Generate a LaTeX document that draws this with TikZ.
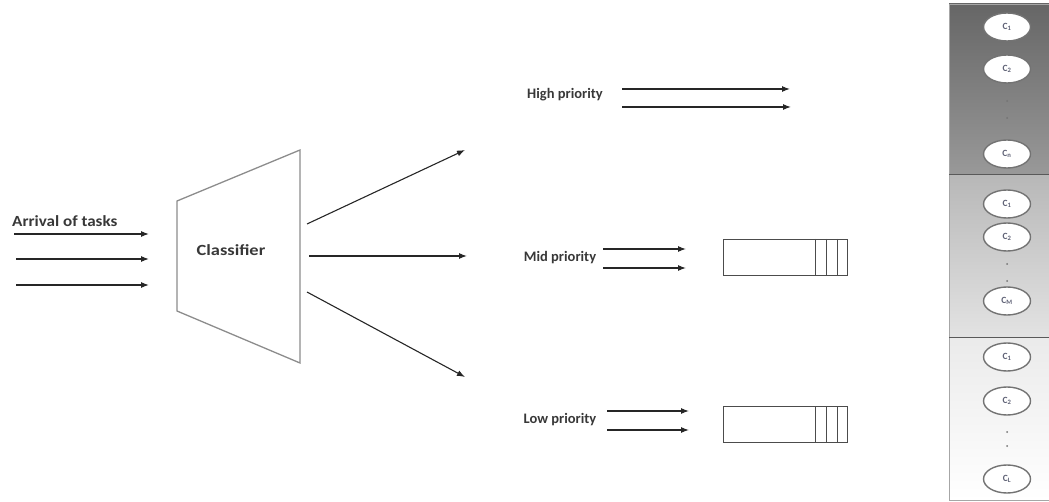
\documentclass[tikz,border=0pt]{standalone}
\usepackage{fontspec}
\setmainfont{Carlito}
\usetikzlibrary{arrows.meta,shapes.geometric}
\definecolor{srvtext}{RGB}{95,98,118}
\begin{document}
\begin{tikzpicture}[x=1pt,y=-1pt,
  arr/.style={draw=black!85, line width=1.1pt, -{Latex[length=8pt,width=6pt]}},
  lbl/.style={font=\bfseries\fontsize{14.5}{16}\selectfont, text=black!78, inner sep=0pt},
  biglbl/.style={font=\bfseries\fontsize{15.5}{17}\selectfont, text=black!78, inner sep=0pt, xscale=1.1},
  edge/.style={draw=black!45, line width=1.3pt},
  queue/.style={draw=black!70, line width=0.9pt},
  srv/.style={ellipse, draw=black!55, line width=1.4pt, fill=white, minimum width=47pt, minimum height=28pt, inner sep=0pt, font=\bfseries\fontsize{9.5}{10}\selectfont, text=srvtext},
  dotm/.style={circle, fill=black!55, inner sep=0pt, minimum size=2pt}
]
\useasboundingbox (0,0) rectangle (1049,502);

% input arrows
\node[biglbl, anchor=west] (arrival) at (12,221) {Arrival of tasks};
\coordinate (i1s) at (14,234);  \coordinate (i1e) at (149,234);
\coordinate (i2s) at (16,259);  \coordinate (i2e) at (149,259);
\coordinate (i3s) at (16,285);  \coordinate (i3e) at (149,285);
\draw[arr] (i1s) -- (i1e);
\draw[arr] (i2s) -- (i2e);
\draw[arr] (i3s) -- (i3e);

% classifier trapezoid
\coordinate (tlt) at (177,201);
\coordinate (trt) at (300,150);
\coordinate (trb) at (300,363);
\coordinate (tlb) at (177,311);
\draw[edge, line join=miter] (tlt) -- (trt) -- (trb) -- (tlb) -- cycle;
\node[biglbl, xscale=1.08] (classifier) at (231,250) {Classifier};

% output arrows
\coordinate (o1s) at (307,224); \coordinate (o1e) at (465,150);
\coordinate (o2s) at (309,256); \coordinate (o2e) at (467,256);
\coordinate (o3s) at (307,292); \coordinate (o3e) at (465,377);
\draw[arr] (o1s) -- (o1e);
\draw[arr] (o2s) -- (o2e);
\draw[arr] (o3s) -- (o3e);

% high priority
\node[lbl] (high) at (565,95) {High priority};
\coordinate (h1s) at (622,89);  \coordinate (h1e) at (790,89);
\coordinate (h2s) at (622,107); \coordinate (h2e) at (791,107);
\draw[arr] (h1s) -- (h1e);
\draw[arr] (h2s) -- (h2e);

% mid priority
\node[lbl] (mid) at (560,258) {Mid priority};
\coordinate (m1s) at (603,249); \coordinate (m1e) at (686,249);
\coordinate (m2s) at (603,268); \coordinate (m2e) at (686,268);
\draw[arr] (m1s) -- (m1e);
\draw[arr] (m2s) -- (m2e);
\draw[queue] (723,239) rectangle (847,275);
\draw[queue] (815,239) -- (815,275) (826,239) -- (826,275) (837,239) -- (837,275);

% low priority
\node[lbl] (low) at (560,420) {Low priority};
\coordinate (l1s) at (607,411); \coordinate (l1e) at (689,411);
\coordinate (l2s) at (607,430); \coordinate (l2e) at (689,430);
\draw[arr] (l1s) -- (l1e);
\draw[arr] (l2s) -- (l2e);
\draw[queue] (723,406) rectangle (847,442);
\draw[queue] (815,406) -- (815,442) (826,406) -- (826,442) (837,406) -- (837,442);

% server panel
\shade[top color=black!60, bottom color=black!40] (949,4) rectangle (1049,175);
\shade[top color=black!28, bottom color=black!11] (949,175) rectangle (1049,338);
\shade[top color=black!8, bottom color=white] (949,338) rectangle (1049,500);
\draw[draw=black!35, line width=0.8pt] (1049,4) -- (949,4) -- (949,500) -- (1049,500);
\draw[draw=black!65, line width=1pt] (949,175) -- (1049,175);
\draw[draw=black!65, line width=1pt] (949,338) -- (1049,338);

\node[srv] (a1) at (1007,27) {C\textsubscript{1}};
\node[srv] (a2) at (1007,69) {C\textsubscript{2}};
\node[dotm] (ad1) at (1007,101) {};
\node[dotm] (ad2) at (1007,118) {};
\node[srv] (an) at (1007,154) {C\textsubscript{n}};

\node[srv] (b1) at (1007,204) {C\textsubscript{1}};
\node[srv] (b2) at (1007,237) {C\textsubscript{2}};
\node[dotm] (bd1) at (1007,264) {};
\node[dotm] (bd2) at (1007,281) {};
\node[srv] (bm) at (1007,301) {C\textsubscript{M}};

\node[srv] (c1) at (1007,357) {C\textsubscript{1}};
\node[srv] (c2) at (1007,401) {C\textsubscript{2}};
\node[dotm] (cd1) at (1007,432) {};
\node[dotm] (cd2) at (1007,446) {};
\node[srv] (cl) at (1007,479) {C\textsubscript{L}};
\end{tikzpicture}
\end{document}
